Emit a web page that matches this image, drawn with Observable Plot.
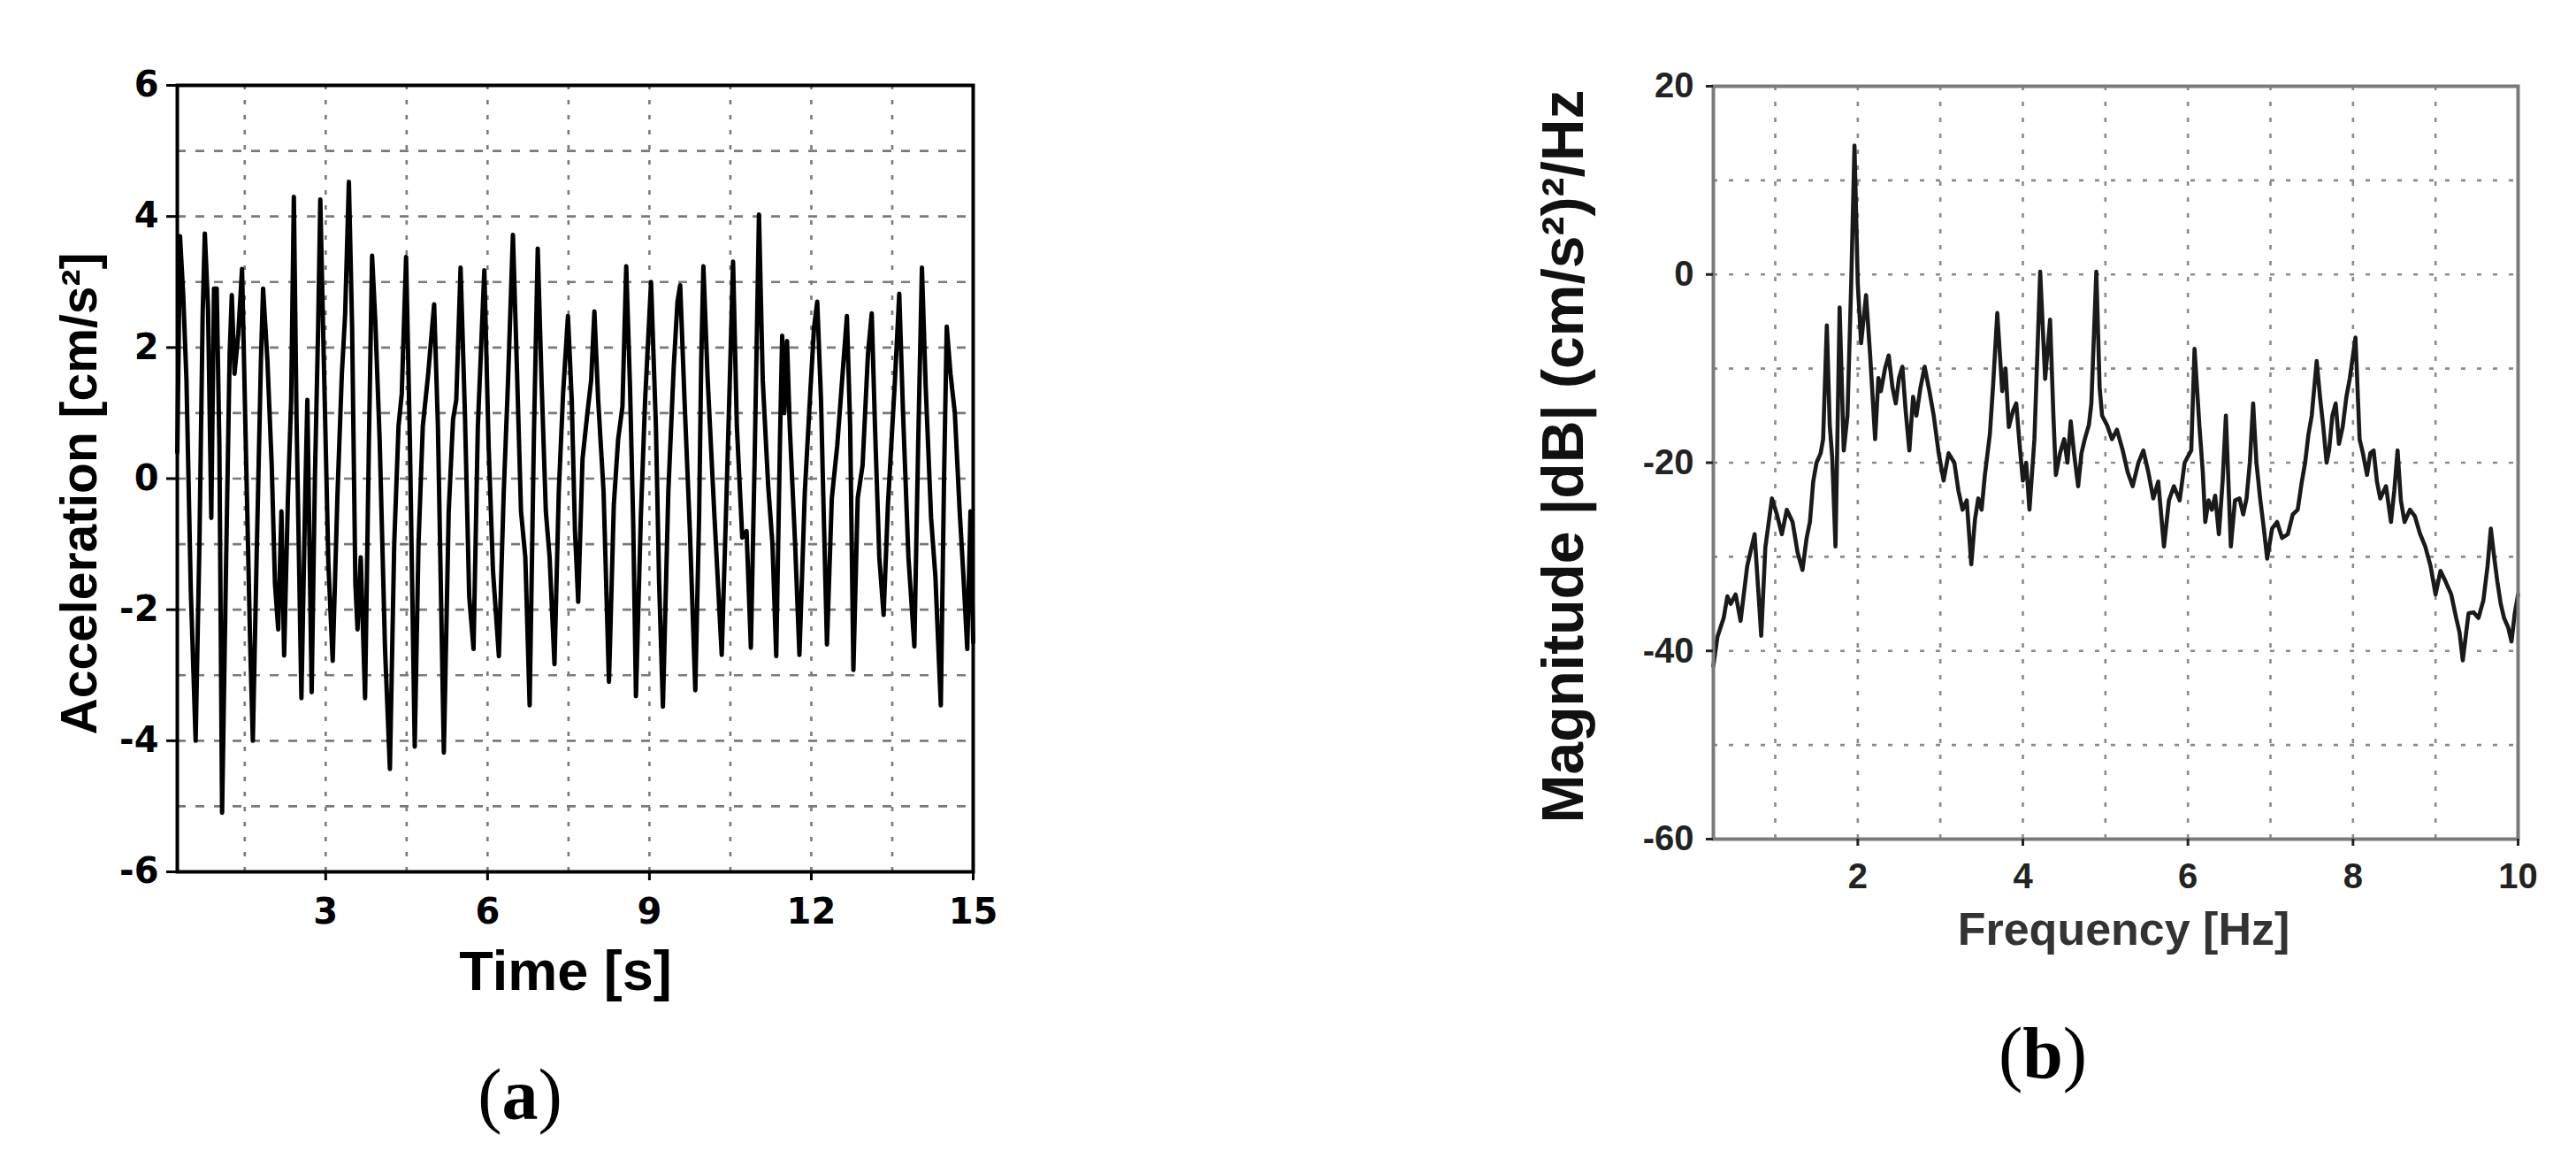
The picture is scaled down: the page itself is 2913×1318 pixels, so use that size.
<!DOCTYPE html>
<html>
<head>
<meta charset="utf-8">
<script src="https://cdn.jsdelivr.net/npm/d3@7"></script>
<script src="https://cdn.jsdelivr.net/npm/@observablehq/plot@0.6"></script>
<style>
html, body { margin: 0; padding: 0; background: #fff; }
#page { position: relative; width: 2913px; height: 1318px; overflow: hidden; background: #fff; }
.panel { position: absolute; top: 0; }
.cap { position: absolute; width: 200px; text-align: center; font-family: "Liberation Serif", "Times New Roman", serif; font-size: 82px; line-height: 1; color: #000; }
.cap b { font-weight: bold; }
</style>
</head>
<body>
<div id="page">
  <div id="pa" class="panel" style="left:0px"></div>
  <div id="pb" class="panel" style="left:1650px"></div>
  <div class="cap" style="left:488px; top:1197px">(<b>a</b>)</div>
  <div class="cap" style="left:2210px; top:1150px">(<b>b</b>)</div>
</div>
<script>
// ---------- Panel (a): acceleration time history ----------
const accelPoints = [
  [0.25,0.4],[0.30,3.7],[0.36,2.8],[0.42,1.5],[0.50,-1.7],[0.59,-4.0],[0.66,-1.0],[0.72,2.5],
  [0.76,3.74],[0.82,2.6],[0.88,-0.6],[0.93,2.9],[0.98,2.9],[1.03,0.5],[1.08,-5.1],[1.15,-1.5],
  [1.22,1.9],[1.26,2.8],[1.31,1.6],[1.38,2.2],[1.45,3.2],[1.52,0.5],[1.60,-2.5],[1.65,-4.0],
  [1.72,-1.2],[1.80,1.8],[1.84,2.9],[1.92,1.8],[2.00,0.2],[2.06,-1.6],[2.12,-2.3],[2.18,-0.5],
  [2.23,-2.7],[2.30,-0.3],[2.36,1.2],[2.41,4.3],[2.46,0.9],[2.55,-3.35],[2.62,-0.3],[2.66,1.2],
  [2.74,-3.26],[2.80,0.0],[2.86,2.3],[2.90,4.26],[2.96,2.0],[3.05,-1.3],[3.13,-2.78],[3.22,-0.2],
  [3.30,1.6],[3.36,2.5],[3.43,4.53],[3.49,2.3],[3.55,-1.6],[3.59,-2.3],[3.65,-1.2],[3.73,-3.35],
  [3.80,0.5],[3.86,3.4],[3.92,2.4],[4.00,0.6],[4.10,-2.6],[4.19,-4.43],[4.27,-1.0],[4.35,0.8],
  [4.41,1.3],[4.49,3.38],[4.56,0.6],[4.65,-4.09],[4.72,-1.0],[4.80,0.8],[4.90,1.6],[5.01,2.66],
  [5.08,0.8],[5.19,-4.18],[5.28,-0.5],[5.36,0.9],[5.42,1.2],[5.50,3.22],[5.58,1.0],[5.66,-1.8],
  [5.74,-2.6],[5.82,0.8],[5.94,3.18],[6.02,0.5],[6.10,-1.4],[6.21,-2.71],[6.30,-0.2],[6.38,1.5],
  [6.47,3.72],[6.54,1.8],[6.62,-0.5],[6.70,-1.2],[6.78,-3.46],[6.86,0.7],[6.93,3.51],[7.00,1.5],
  [7.08,-0.5],[7.15,-1.2],[7.24,-2.83],[7.32,-0.2],[7.40,1.3],[7.49,2.48],[7.56,1.2],[7.62,-0.8],
  [7.68,-1.88],[7.76,0.3],[7.85,1.0],[7.92,1.5],[7.98,2.55],[8.05,1.2],[8.15,-0.2],[8.25,-3.1],
  [8.34,-0.4],[8.42,0.6],[8.50,1.1],[8.57,3.24],[8.64,1.4],[8.70,-0.7],[8.75,-3.32],[8.84,-0.6],
  [8.92,1.2],[9.03,3.0],[9.12,0.8],[9.18,-1.6],[9.25,-3.48],[9.35,-0.2],[9.45,1.7],[9.52,2.7],
  [9.57,2.95],[9.65,1.2],[9.75,-0.8],[9.85,-3.23],[9.92,-0.6],[9.96,1.8],[10.00,3.24],[10.08,1.5],
  [10.20,-0.5],[10.34,-2.69],[10.42,-0.5],[10.50,1.8],[10.55,3.31],[10.62,0.8],[10.72,-0.9],[10.80,-0.8],
  [10.88,-2.58],[10.95,0.3],[11.03,4.03],[11.10,1.5],[11.20,-0.1],[11.28,-1.0],[11.35,-2.71],[11.42,0.6],
  [11.46,2.18],[11.50,1.0],[11.55,2.1],[11.60,0.8],[11.70,-1.0],[11.78,-2.69],[11.88,-0.2],[11.98,1.3],
  [12.05,2.3],[12.11,2.7],[12.18,1.2],[12.22,-0.2],[12.29,-2.53],[12.38,-0.3],[12.48,0.5],[12.58,1.6],
  [12.66,2.48],[12.72,0.8],[12.78,-2.92],[12.86,-0.3],[12.95,0.2],[13.05,1.9],[13.12,2.52],[13.18,0.8],
  [13.26,-1.2],[13.34,-2.08],[13.42,-0.4],[13.55,1.5],[13.63,2.82],[13.70,1.0],[13.80,-1.2],[13.91,-2.56],
  [13.98,0.5],[14.05,3.22],[14.12,1.4],[14.22,-0.6],[14.30,-1.5],[14.40,-3.46],[14.46,0.0],[14.51,2.32],
  [14.58,1.6],[14.66,1.0],[14.75,-0.5],[14.82,-1.5],[14.89,-2.6],[14.95,-0.5],[15.00,-2.5]
];
const xTicksA = [3, 6, 9, 12, 15];
const yTicksA = [-6, -4, -2, 0, 2, 4, 6];
const xGridA = [1.5, 3, 4.5, 6, 7.5, 9, 10.5, 12, 13.5];
const yGridA = [-5, -4, -3, -2, -1, 0, 1, 2, 3, 4, 5];
const xLabelA = "Time [s]";
const yLabelA = "Acceleration [cm/s²]";

// ---------- Panel (b): magnitude spectrum ----------
const spectrumPoints = [
  [0.25,-41.6],[0.30,-38.5],[0.375,-36.5],[0.42,-34.2],[0.46,-35],[0.52,-34],[0.58,-36.8],[0.66,-31],
  [0.75,-27.6],[0.79,-33],[0.83,-38.4],[0.88,-29],[0.96,-23.8],[1.02,-25.5],[1.08,-27.6],[1.14,-25],
  [1.21,-26.3],[1.27,-29.5],[1.33,-31.4],[1.38,-28],[1.42,-26.3],[1.46,-22],[1.5,-20],[1.55,-19],
  [1.58,-17.5],[1.625,-5.4],[1.66,-16],[1.69,-19.4],[1.73,-28.9],[1.78,-3.5],[1.83,-18.7],[1.875,-15],
  [1.92,-1],[1.96,13.7],[2.0,-1],[2.04,-7.3],[2.1,-2.2],[2.15,-8.6],[2.21,-17.5],[2.25,-11],
  [2.28,-12.4],[2.33,-10],[2.375,-8.6],[2.42,-12],[2.46,-13.7],[2.5,-11],[2.54,-9.8],[2.58,-14.5],
  [2.625,-18.7],[2.67,-13],[2.71,-15],[2.76,-12],[2.81,-9.8],[2.87,-12.5],[2.92,-15],[2.98,-19],
  [3.04,-21.9],[3.1,-19],[3.17,-20],[3.22,-23],[3.27,-25],[3.32,-24],[3.375,-30.8],[3.42,-26],
  [3.46,-23.8],[3.5,-25],[3.54,-21.3],[3.6,-17],[3.64,-11.7],[3.69,-4.1],[3.75,-12.4],[3.79,-10],
  [3.83,-16.2],[3.88,-14.5],[3.92,-13.7],[3.96,-18],[4.0,-21.9],[4.04,-20],[4.08,-25],[4.14,-17.5],
  [4.21,0.3],[4.27,-11.1],[4.33,-4.8],[4.37,-15],[4.4,-21.3],[4.45,-19],[4.5,-17.5],[4.54,-20],
  [4.58,-15.6],[4.62,-19],[4.67,-22.5],[4.71,-19],[4.75,-17.5],[4.8,-16],[4.83,-13.7],[4.89,0.3],
  [4.93,-12],[4.96,-15],[5.02,-16],[5.08,-17.5],[5.14,-16.5],[5.21,-18.7],[5.27,-21],[5.33,-22.5],
  [5.4,-20],[5.46,-18.7],[5.52,-21],[5.58,-23.8],[5.64,-22],[5.71,-28.9],[5.77,-24],[5.83,-22.5],
  [5.9,-24],[5.96,-20],[6.04,-18.7],[6.08,-7.9],[6.14,-16.2],[6.18,-21],[6.21,-26.3],[6.25,-24],
  [6.29,-25],[6.33,-23.5],[6.375,-27.6],[6.42,-22],[6.46,-15],[6.52,-28.9],[6.57,-24],[6.625,-23.8],
  [6.67,-25.5],[6.71,-23.8],[6.75,-20],[6.79,-13.7],[6.83,-20],[6.875,-23.8],[6.92,-27],[6.96,-30.2],
  [7.02,-27],[7.08,-26.3],[7.14,-28],[7.21,-27.6],[7.27,-25.5],[7.33,-25],[7.38,-22],[7.42,-20],
  [7.46,-17],[7.5,-15],[7.56,-9.2],[7.6,-13],[7.64,-16.2],[7.68,-20],[7.71,-18.7],[7.75,-15],
  [7.79,-13.7],[7.83,-18],[7.875,-16.2],[7.92,-13],[7.96,-11.1],[8.03,-6.7],[8.08,-17.5],[8.12,-19],
  [8.17,-21.3],[8.21,-19],[8.25,-18.7],[8.29,-22],[8.33,-23.8],[8.4,-22.5],[8.46,-26.3],[8.5,-23],
  [8.54,-18.7],[8.58,-24],[8.625,-26.3],[8.69,-25],[8.75,-25.7],[8.81,-27.5],[8.875,-28.9],[8.94,-31],
  [9.0,-34],[9.06,-31.5],[9.125,-32.7],[9.19,-34],[9.25,-36.5],[9.29,-38],[9.33,-41],[9.4,-36],
  [9.46,-35.9],[9.52,-36.5],[9.58,-34.6],[9.63,-31],[9.67,-27],[9.71,-30],[9.75,-32.7],[9.79,-35],
  [9.83,-36.5],[9.88,-37.5],[9.92,-39],[9.96,-36],[10.0,-34]
];
const xTicksB = [2, 4, 6, 8, 10];
const yTicksB = [-60, -40, -20, 0, 20];
const xGridB = [1, 2, 3, 4, 5, 6, 7, 8, 9];
const yGridB = [-50, -40, -30, -20, -10, 0, 10];
const xLabelB = "Frequency [Hz]";
const yLabelB = "Magnitude |dB| (cm/s²)²/Hz";

const fmt = d => String(d);

const accelData = accelPoints.map(([t, a]) => ({t, a}));
const specData = spectrumPoints.map(([f, m]) => ({f, m}));

const plotA = Plot.plot({
  width: 1150, height: 1100,
  marginLeft: 200, marginRight: 50, marginTop: 96, marginBottom: 115,
  x: {domain: [0.25, 15]},
  y: {domain: [-6, 6]},
  style: {background: "transparent", color: "#000", fontFamily: "'Liberation Sans', Arial, sans-serif", fontWeight: "bold", overflow: "visible"},
  marks: [
    Plot.gridY(yGridA, {stroke: "#7a7a7a", strokeOpacity: 1, strokeWidth: 2.6, strokeDasharray: "10,11"}),
    Plot.gridX(xGridA, {stroke: "#7a7a7a", strokeOpacity: 1, strokeWidth: 2.6, strokeDasharray: "5,12"}),
    Plot.line(accelData, {x: "t", y: "a", stroke: "#000", strokeWidth: 5}),
    Plot.frame({stroke: "#000", strokeWidth: 4}),
    Plot.axisX(xTicksA, {tickSize: 10, tickPadding: 20, fontSize: 40, fontWeight: "bold", fontFamily: "'DejaVu Sans', sans-serif", strokeWidth: 3, tickFormat: fmt, label: null}),
    Plot.axisY(yTicksA, {tickSize: 12, tickPadding: 9, fontSize: 40, fontWeight: "bold", fontFamily: "'DejaVu Sans', sans-serif", strokeWidth: 3, tickFormat: fmt, label: null}),
    Plot.text([xLabelA], {text: d => d, frameAnchor: "bottom", textAnchor: "middle", lineAnchor: "bottom", dx: -11, dy: 133, fontSize: 63, fontWeight: "bold", fill: "#000"}),
    Plot.text([yLabelA], {text: d => d, frameAnchor: "left", textAnchor: "middle", rotate: -90, lineAnchor: "bottom", dx: -92, dy: 17, fontSize: 57, fontWeight: "bold", fill: "#000"})
  ]
});
document.getElementById("pa").appendChild(plotA);

const plotB = Plot.plot({
  width: 1263, height: 1110,
  marginLeft: 287, marginRight: 66, marginTop: 97, marginBottom: 162,
  x: {domain: [0.25, 10]},
  y: {domain: [-60, 20]},
  style: {background: "transparent", color: "#222", fontFamily: "'Liberation Sans', Arial, sans-serif", fontWeight: "bold", overflow: "visible"},
  marks: [
    Plot.gridY(yGridB, {stroke: "#8a8a8a", strokeOpacity: 1, strokeWidth: 2.6, strokeDasharray: "5,13"}),
    Plot.gridX(xGridB, {stroke: "#8a8a8a", strokeOpacity: 1, strokeWidth: 2.6, strokeDasharray: "5,13"}),
    Plot.line(specData, {x: "f", y: "m", stroke: "#1a1a1a", strokeWidth: 4.6}),
    Plot.frame({stroke: "#7a7a7a", strokeWidth: 4}),
    Plot.axisX(xTicksB, {tickSize: 8, tickPadding: 19, fontSize: 40, fontWeight: "bold", strokeWidth: 3, tickFormat: fmt, label: null}),
    Plot.axisY(yTicksB, {tickSize: 8, tickPadding: 14, fontSize: 40, fontWeight: "bold", strokeWidth: 3, tickFormat: fmt, label: null}),
    Plot.text([xLabelB], {text: d => d, frameAnchor: "bottom", textAnchor: "middle", lineAnchor: "bottom", dx: 9, dy: 119, fontSize: 52, fontWeight: "bold", fill: "#333"}),
    Plot.text([yLabelB], {text: d => d, frameAnchor: "left", textAnchor: "middle", rotate: -90, lineAnchor: "bottom", dx: -148, dy: -7, fontSize: 66, fontWeight: "bold", fill: "#111"})
  ]
});
document.getElementById("pb").appendChild(plotB);
</script>
</body>
</html>
